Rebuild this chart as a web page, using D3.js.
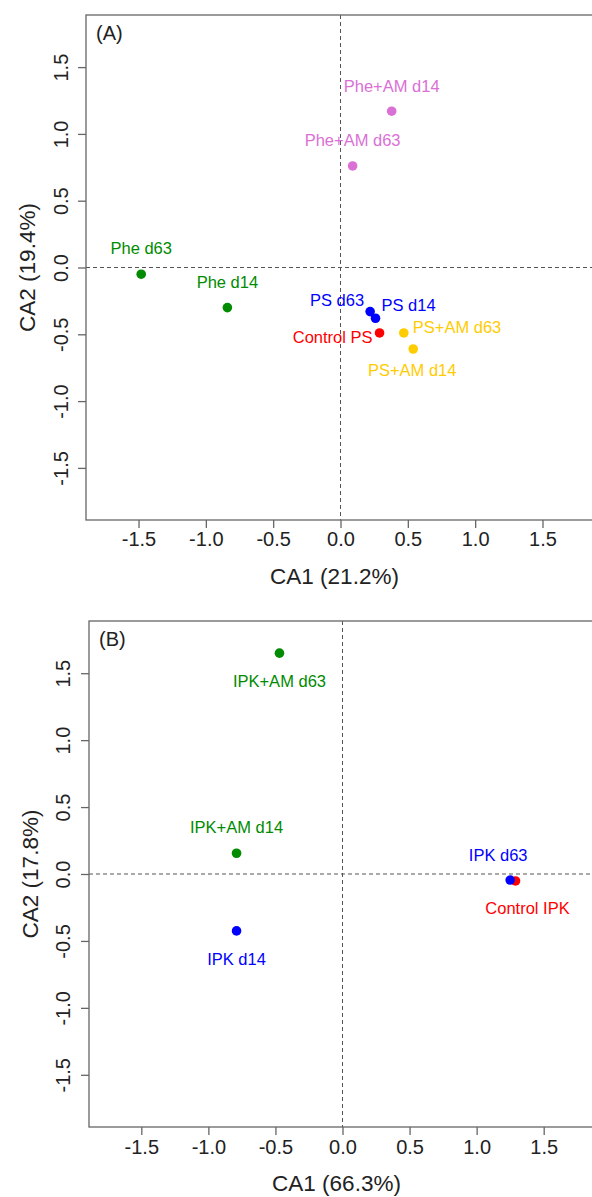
<!DOCTYPE html>
<html>
<head>
<meta charset="utf-8">
<script src="https://cdn.jsdelivr.net/npm/d3@7"></script>
<style>
  body { margin: 0; background: #fff; }
  svg { display: block; }
</style>
</head>
<body>
<svg id="chart" width="592" height="1197"></svg>
<script>
// Panel A data
var namesA = ['Phe d63', 'Phe d14', 'Phe+AM d14', 'Phe+AM d63', 'PS d63', 'PS d14', 'Control PS', 'PS+AM d63', 'PS+AM d14'];
var groupsA = ['Phe', 'Phe', 'Phe+AM', 'Phe+AM', 'PS', 'PS', 'Control', 'PS+AM', 'PS+AM'];
var ca1A = [-1.48, -0.84, 0.38, 0.09, 0.22, 0.26, 0.29, 0.47, 0.54];
var ca2A = [-0.05, -0.30, 1.17, 0.76, -0.33, -0.38, -0.49, -0.49, -0.61];

// Panel B data (Control drawn before IPK d63, which sits on top of it)
var namesB = ['IPK+AM d63', 'IPK+AM d14', 'IPK d14', 'Control IPK', 'IPK d63'];
var groupsB = ['IPK+AM', 'IPK+AM', 'IPK', 'Control', 'IPK'];
var ca1B = [-0.47, -0.79, -0.79, 1.29, 1.25];
var ca2B = [1.65, 0.155, -0.425, -0.052, -0.045];

var ticks = [-1.5, -1.0, -0.5, 0.0, 0.5, 1.0, 1.5];

var colour = {
  'Phe': '#008B00', 'Phe+AM': '#DA70D6', 'PS': '#0000FF', 'Control': '#FF0000',
  'PS+AM': '#FFCC00', 'IPK': '#0000FF', 'IPK+AM': '#008B00'
};

// label placement: [anchor, dx, dy] relative to the point (text centre vertically)
var placeA = [['middle', 0, -26], ['middle', 0, -26], ['middle', 0, -25], ['middle', 0, -26],
              ['end', -6, -12], ['start', 6, -13], ['end', -7, 4], ['start', 9, -6], ['middle', -1, 21]];
var placeB = [['middle', 0, 28], ['middle', 0, -26], ['middle', 0, 28], ['middle', 12, 27], ['middle', -12, -25]];

var font = 'Liberation Sans, Arial, sans-serif';
var svg = d3.select('#chart');
var fmt = d => d.toFixed(1);  // plain hyphen for negatives, like R

function drawPanel(p) {
  var g = svg.append('g');
  var x = d3.scaleLinear().domain([-1.89, 1.89]).range([p.left, p.right]);
  var y = d3.scaleLinear().domain([-1.89, 1.89]).range([p.bottom, p.top]);

  // zero lines
  g.append('line').attr('x1', p.left).attr('x2', p.right).attr('y1', y(0)).attr('y2', y(0))
    .attr('stroke', '#555').attr('stroke-width', 1).attr('stroke-dasharray', '4,3');
  g.append('line').attr('x1', x(0)).attr('x2', x(0)).attr('y1', p.top).attr('y2', p.bottom)
    .attr('stroke', '#555').attr('stroke-width', 1).attr('stroke-dasharray', '4,3');

  // axes
  var xAxis = d3.axisBottom(x).tickValues(ticks).tickFormat(fmt).tickSize(8).tickPadding(7);
  var gx = g.append('g').attr('transform', 'translate(0,' + p.bottom + ')').call(xAxis);
  gx.select('.domain').remove();
  gx.selectAll('line').attr('stroke', '#666').attr('stroke-width', 1.3);
  gx.selectAll('text').attr('font-family', font).attr('font-size', '20px').attr('fill', '#222')
    .attr('y', null).attr('dy', null).attr('dominant-baseline', 'central')
    .attr('transform', 'translate(0,' + p.xTickY + ')');

  var yAxis = d3.axisLeft(y).tickValues(ticks).tickFormat(fmt).tickSize(8);
  var gy = g.append('g').attr('transform', 'translate(' + p.left + ',0)').call(yAxis);
  gy.select('.domain').remove();
  gy.selectAll('line').attr('stroke', '#666').attr('stroke-width', 1.3);
  gy.selectAll('text').attr('font-family', font).attr('font-size', '20px').attr('fill', '#222')
    .attr('x', null).attr('dy', null).attr('text-anchor', 'middle').attr('dominant-baseline', 'central')
    .attr('transform', 'translate(' + (-p.yTickX) + ',0) rotate(-90)');

  // box
  g.append('rect').attr('x', p.left).attr('y', p.top)
    .attr('width', p.right - p.left).attr('height', p.bottom - p.top)
    .attr('fill', 'none').attr('stroke', '#666').attr('stroke-width', 1.3);

  // titles
  g.append('text').text(p.xTitle)
    .attr('x', (p.left + p.right) / 2 - 6).attr('y', p.bottom + p.xTitleY)
    .attr('font-family', font).attr('font-size', '22.5px').attr('fill', '#222')
    .attr('text-anchor', 'middle').attr('dominant-baseline', 'central');
  g.append('text').text(p.yTitle)
    .attr('transform', 'translate(' + p.yTitleX + ',' + (p.top + p.bottom) / 2 + ') rotate(-90)')
    .attr('font-family', font).attr('font-size', '22.5px').attr('fill', '#222')
    .attr('text-anchor', 'middle').attr('dominant-baseline', 'central');
  g.append('text').text(p.tag)
    .attr('x', p.left + 10).attr('y', p.top + 18)
    .attr('font-family', font).attr('font-size', '20px').attr('fill', '#222')
    .attr('dominant-baseline', 'central');

  // points
  var idx = d3.range(p.names.length);
  g.selectAll('circle.pt').data(idx).enter().append('circle')
    .attr('class', 'pt')
    .attr('cx', i => x(p.ca1[i])).attr('cy', i => y(p.ca2[i])).attr('r', 4.8)
    .attr('fill', i => colour[p.groups[i]]);

  g.selectAll('text.lab').data(idx).enter().append('text')
    .attr('class', 'lab').text(i => p.names[i])
    .attr('x', i => x(p.ca1[i]) + p.place[i][1])
    .attr('y', i => y(p.ca2[i]) + p.place[i][2])
    .attr('text-anchor', i => p.place[i][0])
    .attr('dominant-baseline', 'central')
    .attr('font-family', font).attr('font-size', '16.5px')
    .attr('fill', i => colour[p.groups[i]]);
}

drawPanel({
  names: namesA, groups: groupsA, ca1: ca1A, ca2: ca2A, place: placeA,
  left: 86, right: 595, top: 15, bottom: 520,
  xTickY: 19, yTickX: 25, xTitleY: 56, yTitleX: 27,
  xTitle: 'CA1 (21.2%)', yTitle: 'CA2 (19.4%)', tag: '(A)'
});

drawPanel({
  names: namesB, groups: groupsB, ca1: ca1B, ca2: ca2B, place: placeB,
  left: 89, right: 596, top: 621, bottom: 1127,
  xTickY: 20, yTickX: 26, xTitleY: 56, yTitleX: 30,
  xTitle: 'CA1 (66.3%)', yTitle: 'CA2 (17.8%)', tag: '(B)'
});
</script>
</body>
</html>
